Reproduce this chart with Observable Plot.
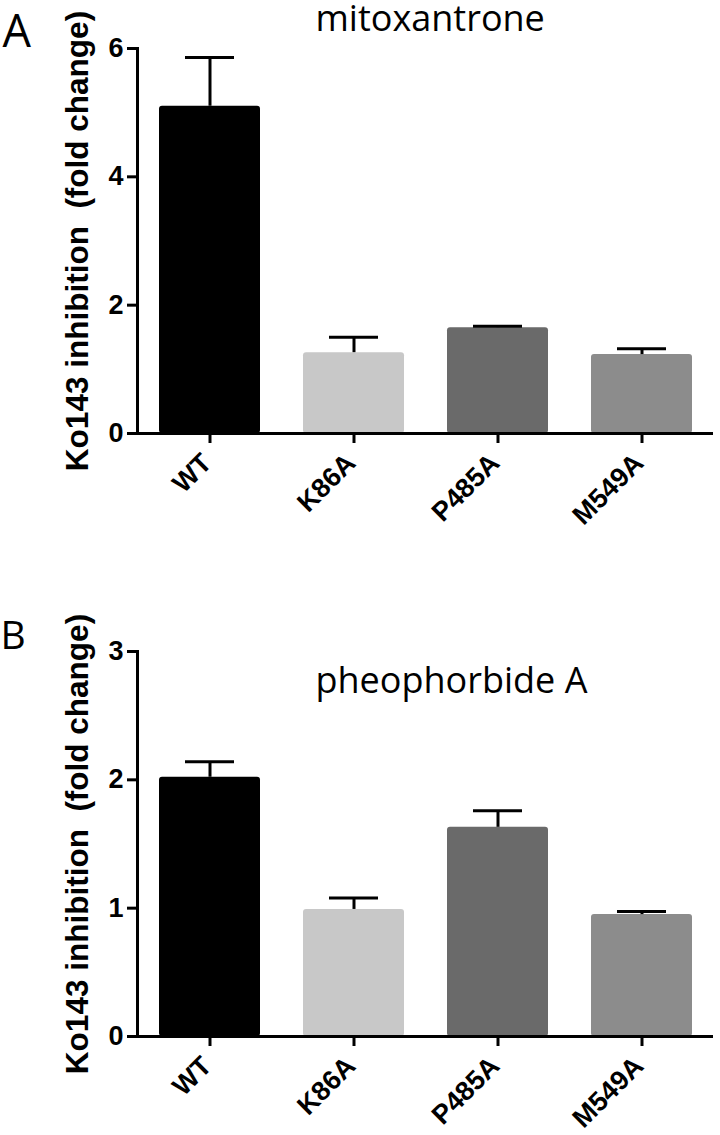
<!DOCTYPE html>
<html>
<head>
<meta charset="utf-8">
<script src="https://cdn.jsdelivr.net/npm/d3@7"></script>
<script src="https://cdn.jsdelivr.net/npm/@observablehq/plot@0.6"></script>
<style>
  html, body { margin: 0; padding: 0; background: #fff; }
  #root { width: 720px; height: 1135px; position: relative; overflow: hidden; }
  #root svg { display: block; }
</style>
</head>
<body>
<div id="root"></div>
<script>
// ---- data ----
const categories = ["WT", "K86A", "P485A", "M549A"];
const palette = ["#000000", "#c8c8c8", "#6a6a6a", "#8c8c8c"];

const mitoxMean = [5.10, 1.26, 1.65, 1.23];
const mitoxErr  = [5.86, 1.50, 1.67, 1.32];

const pheoMean = [2.02, 0.99, 1.63, 0.95];
const pheoErr  = [2.14, 1.08, 1.76, 0.975];

const ticksA = [0, 2, 4, 6];
const ticksB = [0, 1, 2, 3];

const yLabel = "Ko143 inhibition  (fold change)";

const BOLD = "'Liberation Sans', Arial, sans-serif";

function panel({letter, title, means, errs, yMax, ticks, height, marginTop, marginBottom, letterSize, letterDx, letterDy, titleDy}) {
  const rows = categories.map((c, i) => ({name: c, value: means[i], err: errs[i]}));
  return Plot.plot({
    width: 720,
    height,
    marginTop,
    marginBottom,
    marginLeft: 137,
    marginRight: 7,
    style: {fontFamily: BOLD, background: "#fff", color: "#000", overflow: "visible"},
    x: {domain: categories, paddingInner: 0.3, paddingOuter: 0.15, label: null},
    y: {domain: [0, yMax], label: null},
    color: {domain: categories, range: palette},
    marks: [
      Plot.barY(rows, {x: "name", y: "value", fill: "name", rx: 3}),
      Plot.ruleX(rows, {x: "name", y1: "value", y2: "err", stroke: "#000", strokeWidth: 3}),
      Plot.tickY(rows, {x: "name", y: "err", stroke: "#000", strokeWidth: 3, insetLeft: 26, insetRight: 26}),
      Plot.frame({anchor: "left", stroke: "#000", strokeWidth: 3}),
      Plot.ruleY([0], {stroke: "#000", strokeWidth: 3}),
      // axis tick marks (labels drawn below as text marks for size control)
      Plot.axisY({ticks, tickSize: 10, strokeWidth: 3, label: null, tickFormat: () => ""}),
      Plot.axisX({tickSize: 10, strokeWidth: 3, label: null, tickFormat: () => ""}),
      // y tick labels
      Plot.text(ticks, {y: d => d, frameAnchor: "left", dx: -14, textAnchor: "end", lineAnchor: "middle", fontSize: 27, fontWeight: "bold"}),
      // x tick labels
      Plot.text(categories, {x: d => d, frameAnchor: "bottom", dx: -3, dy: 25, rotate: -45, textAnchor: "end", lineAnchor: "middle", fontSize: 27, fontWeight: "bold"}),
      // y axis title
      Plot.text([yLabel], {frameAnchor: "left", rotate: -90, dx: -60, fontSize: 31.5, fontWeight: "bold", textAnchor: "middle"}),
      Plot.text([title], {frameAnchor: "top-left", dx: 178, dy: titleDy, lineAnchor: "bottom", textAnchor: "start", fontSize: 36, fontWeight: "normal", fontFamily: "'Open Sans', sans-serif"}),
      Plot.text([letter], {frameAnchor: "top-left", dx: letterDx, dy: letterDy, lineAnchor: "bottom", textAnchor: "start", fontSize: letterSize, fontWeight: "normal", fontFamily: "'Open Sans', sans-serif"})
    ]
  });
}

const root = document.getElementById("root");
root.appendChild(panel({
  letter: "A", title: "mitoxantrone", means: mitoxMean, errs: mitoxErr, yMax: 6, ticks: ticksA,
  height: 560, marginTop: 48, marginBottom: 127, letterSize: 45, letterDx: -135, letterDy: -2, titleDy: -18
}));
root.appendChild(panel({
  letter: "B", title: "pheophorbide A", means: pheoMean, errs: pheoErr, yMax: 3, ticks: ticksB,
  height: 575, marginTop: 91, marginBottom: 99, letterSize: 39, letterDx: -137, letterDy: -3, titleDy: 41
}));
</script>
</body>
</html>
